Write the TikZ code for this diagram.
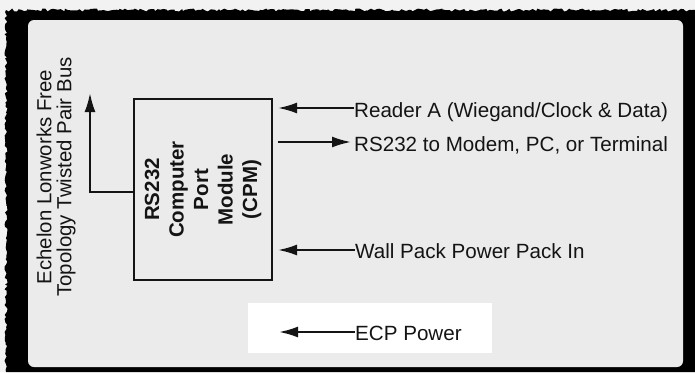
\documentclass[tikz,border=0pt]{standalone}
\usepackage{fontspec}
\setmainfont{Liberation Sans}
\usetikzlibrary{arrows.meta,decorations.pathmorphing}
\definecolor{outbg}{HTML}{F2F2F2}
\definecolor{panelbg}{HTML}{EBEBEB}
\definecolor{ink}{HTML}{141414}
\tikzset{
  arr/.style={draw=ink, line width=2.1pt, -{Latex[length=19pt,width=11pt]}},
  lbl/.style={inner sep=0pt, anchor=base west, text=ink, font=\fontsize{20.6}{22}\selectfont},
  cpmbox/.style={draw=ink, line width=2pt, fill=none, inner sep=0pt},
}
\begin{document}
\begin{tikzpicture}[x=1pt,y=-1pt]
\useasboundingbox (0,0) rectangle (695,372);
% background and torn frame
\fill[outbg] (0,0) rectangle (695,372);
\pgfmathsetseed{7}
\fill[black] (695,372) -- (6,372)
  decorate[decoration={random steps,segment length=2.5pt,amplitude=1.5pt}]{-- (6,10) -- (695,10)} -- cycle;
\fill[panelbg, rounded corners=6pt] (28,20) rectangle (683,367);
% ECP white box
\fill[white] (248,303) rectangle (492,353);
% CPM box
\node[cpmbox, minimum width=138pt, minimum height=181pt] (cpm) at (203,189.5) {};
\node[rotate=90, align=center, text=ink, inner sep=0pt,
      font=\fontsize{20.5}{24.5}\selectfont\bfseries] (cpmtext) at (cpm.center) {RS232\\Computer\\Port\\Module\\(CPM)};
% Echelon label
\node[rotate=90, align=center, text=ink, inner sep=0pt,
      font=\fontsize{20.4}{20}\selectfont] (bus) at (56,177) {Echelon Lonworks Free\\Topology Twisted Pair Bus};
% right labels
\node[lbl] (rdr) at (354,117) {Reader A (Wiegand/Clock \& Data)};
\node[lbl] (rs) at (354,151) {RS232 to Modem, PC, or Terminal};
\node[lbl] (wall) at (355,258) {Wall Pack Power Pack In};
\node[lbl] (ecp) at (355,340) {ECP Power};
% connector end points
\coordinate (rdrtip) at (278,108);
\coordinate (rsstart) at (278,142);
\coordinate (walltip) at (278,250);
\coordinate (ecptip) at (279,332);
\coordinate (bustip) at (90,93);
\coordinate (buscorner) at (90,192);
\coordinate (busstart) at (cpm.west |- buscorner);
% connectors
\draw[arr] ([yshift=9pt]rdr.base west) -- (rdrtip);
\draw[arr] (rsstart) -- ([xshift=-3pt,yshift=9pt]rs.base west);
\draw[arr] ([yshift=8pt]wall.base west) -- (walltip);
\draw[arr] ([yshift=8pt]ecp.base west) -- (ecptip);
\draw[arr] (busstart) -- (buscorner) -- (bustip);
\end{tikzpicture}
\end{document}
